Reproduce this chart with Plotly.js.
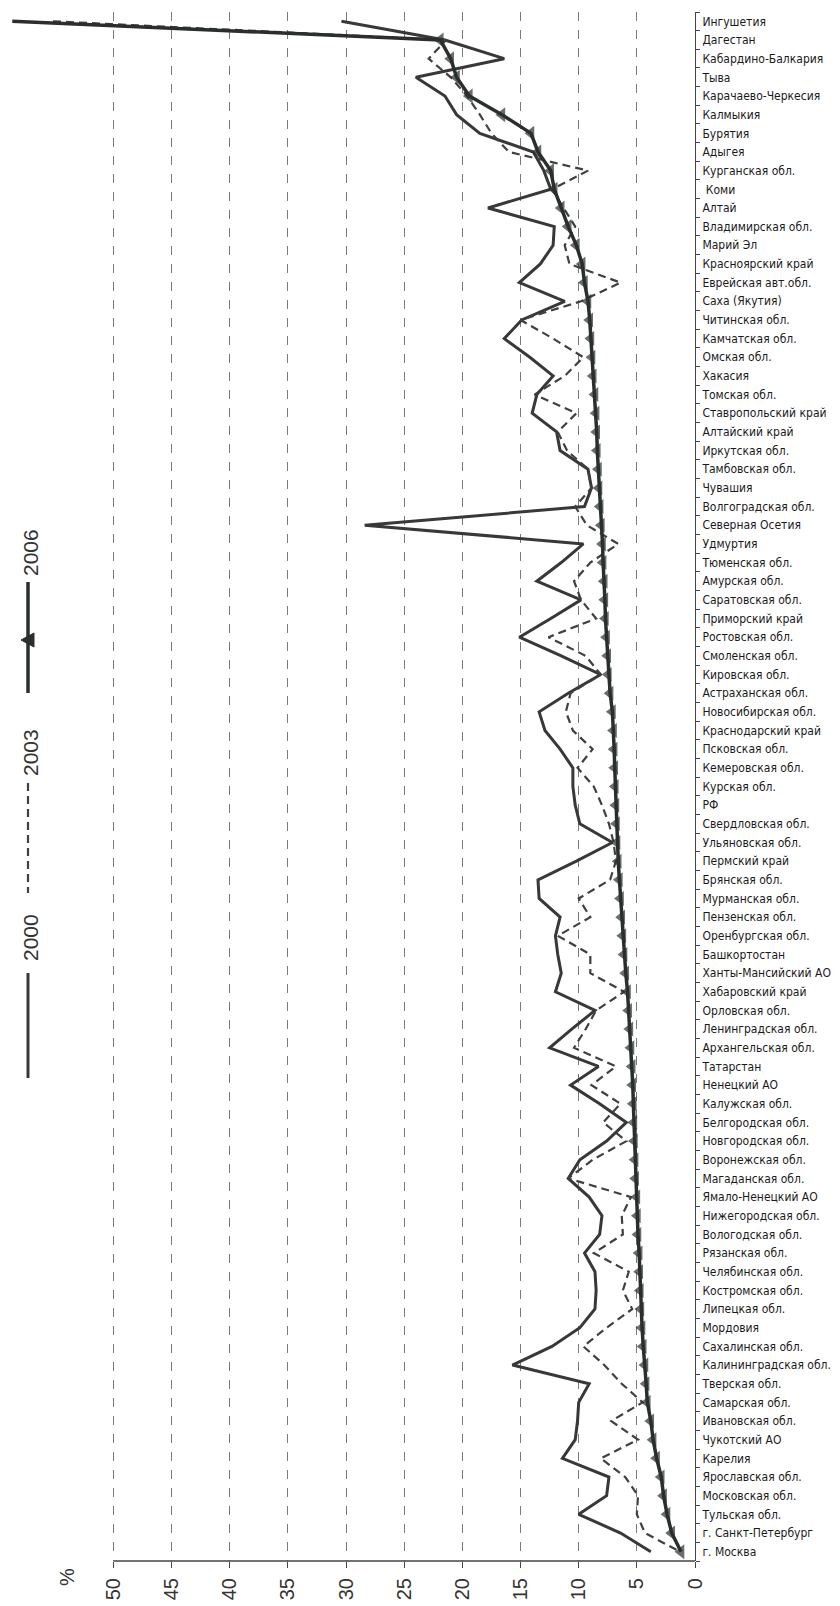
<!DOCTYPE html>
<html>
<head>
<meta charset="utf-8">
<script src="https://cdn.plot.ly/plotly-3.0.1.min.js"></script>
<style>html,body{margin:0;padding:0;background:#fff;}</style>
</head>
<body>
<div id="chart" style="width:840px;height:1606px;"></div>
<script>
// ---- data ----
const regions = [
"Ингушетия","Дагестан","Кабардино-Балкария","Тыва","Карачаево-Черкесия","Калмыкия","Бурятия","Адыгея",
"Курганская обл."," Коми","Алтай","Владимирская обл.","Марий Эл","Красноярский край","Еврейская авт.обл.",
"Саха (Якутия)","Читинская обл.","Камчатская обл.","Омская обл.","Хакасия","Томская обл.","Ставропольский край",
"Алтайский край","Иркутская обл.","Тамбовская обл.","Чувашия","Волгоградская обл.","Северная Осетия","Удмуртия",
"Тюменская обл.","Амурская обл.","Саратовская обл.","Приморский край","Ростовская обл.","Смоленская обл.",
"Кировская обл.","Астраханская обл.","Новосибирская обл.","Краснодарский край","Псковская обл.",
"Кемеровская обл.","Курская обл.","РФ","Свердловская обл.","Ульяновская обл.","Пермский край","Брянская обл.",
"Мурманская обл.","Пензенская обл.","Оренбургская обл.","Башкортостан","Ханты-Мансийский АО","Хабаровский край",
"Орловская обл.","Ленинградская обл.","Архангельская обл.","Татарстан","Ненецкий АО","Калужская обл.",
"Белгородская обл.","Новгородская обл.","Воронежская обл.","Магаданская обл.","Ямало-Ненецкий АО",
"Нижегородская обл.","Вологодская обл.","Рязанская обл.","Челябинская обл.","Костромская обл.","Липецкая обл.",
"Мордовия","Сахалинская обл.","Калининградская обл.","Тверская обл.","Самарская обл.","Ивановская обл.",
"Чукотский АО","Карелия","Ярославская обл.","Московская обл.","Тульская обл.","г. Санкт-Петербург","г. Москва"
];

const v2000 = [
30.4,21.5,16.4,24.0,21.5,20.5,18.5,13.9,13.0,12.4,
17.8,12.1,12.2,13.3,15.1,11.2,14.9,16.4,14.2,12.2,
13.6,14.0,11.9,11.6,9.2,8.9,9.5,28.4,9.6,11.5,
13.6,9.8,12.4,15.1,11.5,8.1,10.9,13.4,12.9,11.6,
10.5,10.5,10.3,9.9,7.1,10.2,13.5,13.4,11.6,12.0,
11.8,11.5,12.0,8.6,10.6,12.5,8.3,10.7,8.2,5.9,
7.6,9.9,10.9,9.1,8.0,8.2,9.5,8.6,8.5,8.6,
9.9,12.3,15.7,9.1,10.0,10.1,10.3,11.4,7.4,7.6,
10.0,6.4,3.8
];

const v2003 = [
55.2,21.4,22.9,21.0,19.6,18.5,17.5,16.0,9.2,12.3,
11.3,10.3,11.2,10.8,6.4,9.8,15.0,12.2,9.6,11.2,
13.8,10.2,11.8,11.0,9.2,8.9,10.3,9.3,6.6,9.0,
10.4,9.8,8.5,12.6,9.4,8.1,10.7,11.1,10.5,8.8,
10.1,8.7,8.0,7.4,7.0,6.8,7.3,10.0,9.0,11.8,
9.0,9.0,6.1,8.5,9.4,10.4,6.8,8.9,6.4,7.9,
5.9,8.8,10.9,5.5,6.3,6.2,8.7,5.7,6.2,5.4,
7.6,9.6,7.8,6.3,4.5,7.2,4.9,8.1,6.0,4.9,
5.0,4.3,1.3
];

const v2006 = [
58.7,21.9,21.0,20.5,19.4,16.6,14.1,13.5,12.4,12.1,
11.5,10.9,10.2,9.7,9.5,9.2,9.05,8.95,8.85,8.75,
8.6,8.5,8.45,8.4,8.3,8.25,8.15,8.05,7.95,7.9,
7.8,7.75,7.7,7.6,7.5,7.45,7.3,7.1,7.0,6.95,
6.9,6.85,6.8,6.75,6.7,6.6,6.5,6.4,6.3,6.2,
6.1,5.95,5.8,5.7,5.6,5.5,5.4,5.35,5.3,5.25,
5.2,5.15,5.1,5.0,4.95,4.9,4.8,4.75,4.7,4.65,
4.55,4.45,4.3,4.2,4.1,3.8,3.6,3.3,2.9,2.7,
2.4,2.0,1.2
];

const seriesNames = ["2000","2003","2006"];
const valueTicks = [0,5,10,15,20,25,30,35,40,45,50];

// ---- geometry helpers (pixel -> paper) ----
const W = 840, H = 1606;
const M = {l:3, r:145, t:12, b:45};
const PW = W - M.l - M.r, PH = H - M.t - M.b;
const pxX = x => (x - M.l) / PW;
const pxY = y => (H - M.b - y) / PH;

const c2000 = "#383838", c2003 = "#404040", c2006 = "#2a2f2c";

// marker of the first point lies outside the 0-50 frame in the original and is not drawn there
const markerSizes = v2006.map((v, i) => (i === 0 ? 0 : 13));

const traces = [
  {x: v2000, y: regions, name: seriesNames[0], type: "scatter", mode: "lines",
   line: {color: c2000, width: 3}},
  {x: v2003, y: regions, name: seriesNames[1], type: "scatter", mode: "lines",
   line: {color: c2003, width: 2.2, dash: "8px,5px"}},
  {x: v2006, y: regions, name: seriesNames[2], type: "scatter", mode: "lines+markers",
   line: {color: c2006, width: 3.5},
   marker: {symbol: "triangle-left", size: markerSizes, color: c2006, line: {width: 0}}}
];

const legX = 28;
const tri = [[legX-7,640],[legX+6,633],[legX+6,647]].map(p => [pxX(p[0]), pxY(p[1])]);

const shapes = [
  {type:"line", xref:"x", yref:"paper", x0:50, x1:0, y0:0, y1:0, line:{color:"#444", width:1.5}},
  {type:"line", xref:"paper", yref:"paper", x0:pxX(legX), x1:pxX(legX), y0:pxY(973), y1:pxY(1078), line:{color:c2000, width:3}},
  {type:"line", xref:"paper", yref:"paper", x0:pxX(legX), x1:pxX(legX), y0:pxY(783), y1:pxY(893), line:{color:c2003, width:2.2, dash:"8px,5px"}},
  {type:"line", xref:"paper", yref:"paper", x0:pxX(legX), x1:pxX(legX), y0:pxY(582), y1:pxY(693), line:{color:c2006, width:3.5}},
  {type:"path", xref:"paper", yref:"paper",
   path:`M ${tri[0][0]} ${tri[0][1]} L ${tri[1][0]} ${tri[1][1]} L ${tri[2][0]} ${tri[2][1]} Z`,
   fillcolor:c2006, line:{color:c2006, width:1}}
];

const legFont = {family:"Liberation Sans, Arial, sans-serif", size:21, color:"#333"};
const annotations = [
  {xref:"paper", yref:"paper", x:pxX(67), y:pxY(1566), text:"%", textangle:-90, showarrow:false,
   font:{family:"Liberation Sans, Arial, sans-serif", size:20, color:"#333"}, xanchor:"center", yanchor:"top"},
  {xref:"paper", yref:"paper", x:pxX(30), y:pxY(938), text:seriesNames[0], textangle:-90, showarrow:false,
   font:legFont, xanchor:"center", yanchor:"middle"},
  {xref:"paper", yref:"paper", x:pxX(30), y:pxY(753), text:seriesNames[1], textangle:-90, showarrow:false,
   font:legFont, xanchor:"center", yanchor:"middle"},
  {xref:"paper", yref:"paper", x:pxX(30), y:pxY(553), text:seriesNames[2], textangle:-90, showarrow:false,
   font:legFont, xanchor:"center", yanchor:"middle"}
];

const layout = {
  width: W, height: H,
  margin: M,
  paper_bgcolor: "#ffffff",
  plot_bgcolor: "#ffffff",
  showlegend: false,
  xaxis: {
    range: [59.5, 0],
    tickmode: "array", tickvals: valueTicks, ticktext: valueTicks.map(String),
    tickangle: -90,
    tickfont: {family:"Liberation Sans, Arial, sans-serif", size:20, color:"#333"},
    ticks: "outside", ticklen: 6, tickcolor: "#444", tickwidth: 1,
    ticklabelstandoff: 2,
    showgrid: true, gridcolor: "#7a7a7a", gridwidth: 1, griddash: "9px,9px",
    zeroline: false, showline: false
  },
  yaxis: {
    type: "category",
    categoryorder: "array", categoryarray: regions,
    tickmode: "array", tickvals: regions,
    autorange: false,
    range: [regions.length - 0.5, -0.5],
    side: "right",
    showline: true, linecolor: "#444", linewidth: 1,
    ticks: "outside", ticklen: 4, tickcolor: "#444", tickson: "boundaries",
    ticklabelstandoff: 4,
    tickfont: {family:"Liberation Sans Narrow, DejaVu Sans Condensed, sans-serif", size:12, color:"#1a1a1a"},
    showgrid: false, zeroline: false
  },
  shapes: shapes,
  annotations: annotations
};

Plotly.newPlot("chart", traces, layout, {displayModeBar:false, staticPlot:true});
</script>
</body>
</html>
